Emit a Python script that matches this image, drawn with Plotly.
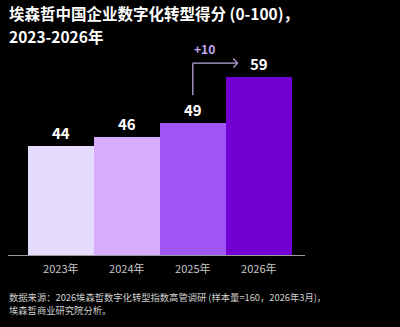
import plotly.graph_objects as go

years = ["2023年", "2024年", "2025年", "2026年"]
scores = [44, 46, 49, 59]
bar_colors = ["#E4DBFD", "#D8ACFD", "#A055F5", "#7300D2"]
title_lines = ["埃森哲中国企业数字化转型得分 (0-100)，", "2023-2026年"]
source_lines = ["数据来源：2026埃森哲数字化转型指数高管调研 (样本量=160，2026年3月)，",
                "埃森哲商业研究院分析。"]

FONT = "Noto Sans CJK SC, Noto Sans, sans-serif"
ARROW = "#B9A5D6"

fig = go.Figure()
fig.add_trace(go.Bar(
    x=years, y=scores,
    marker=dict(color=bar_colors, line=dict(width=0)),
    hoverinfo="skip",
))

# value labels
for yr, v in zip(years, scores):
    fig.add_annotation(x=yr, y=v, text=f"<b>{v}</b>", showarrow=False,
                       yanchor="bottom", yshift=1,
                       font=dict(family=FONT, size=15, color="white"))

# growth arrow from 2025 to 2026
diff = scores[3] - scores[2]
y_low = scores[2] + 6
y_top = scores[2] + 13
x_end = 2.68
for (x0, y0, x1, y1) in [
    (2, y_low, 2, y_top),
    (2, y_top, x_end, y_top),
    (x_end - 0.065, y_top + 0.95, x_end, y_top),
    (x_end - 0.065, y_top - 0.95, x_end, y_top),
]:
    fig.add_shape(type="line", xref="x", yref="y", x0=x0, y0=y0, x1=x1, y1=y1,
                  line=dict(color=ARROW, width=1.3))
fig.add_annotation(x=2.18, y=scores[2] + 16.2, xref="x", yref="y",
                   text=f"<b>+{diff}</b>", showarrow=False,
                   font=dict(family=FONT, size=12, color="#C9A8F2"))

# plot area: x 8..305 px, y 30..255 px
def py(p):
    return (255 - p) / 225

for line, p in zip(title_lines, [12.5, 35.5]):
    fig.add_annotation(x=0, y=py(p), xref="paper", yref="paper",
                       xanchor="left", yanchor="middle", borderpad=0,
                       text=f"<b>{line}</b>", showarrow=False, align="left",
                       font=dict(family=FONT, size=15.5, color="white"))

for line, p in zip(source_lines, [297, 309.5]):
    fig.add_annotation(x=0, y=py(p), xref="paper", yref="paper",
                       xanchor="left", yanchor="middle", borderpad=0, text=line,
                       showarrow=False, align="left",
                       font=dict(family=FONT, size=9.3, color="#D0D0D0"))

fig.update_layout(
    width=400, height=327,
    margin=dict(l=8, r=95, t=30, b=72),
    paper_bgcolor="black", plot_bgcolor="black",
    bargap=0, showlegend=False,
    xaxis=dict(range=[-0.8, 3.7], showline=True, linecolor="#9A9A9A", linewidth=1,
               ticks="", showgrid=False, zeroline=False, ticklabelstandoff=4,
               tickfont=dict(family=FONT, size=11, color="#C8C8C8")),
    yaxis=dict(range=[20.3, 69.2], visible=False, showgrid=False, zeroline=False),
)

fig.write_html("out.html")
